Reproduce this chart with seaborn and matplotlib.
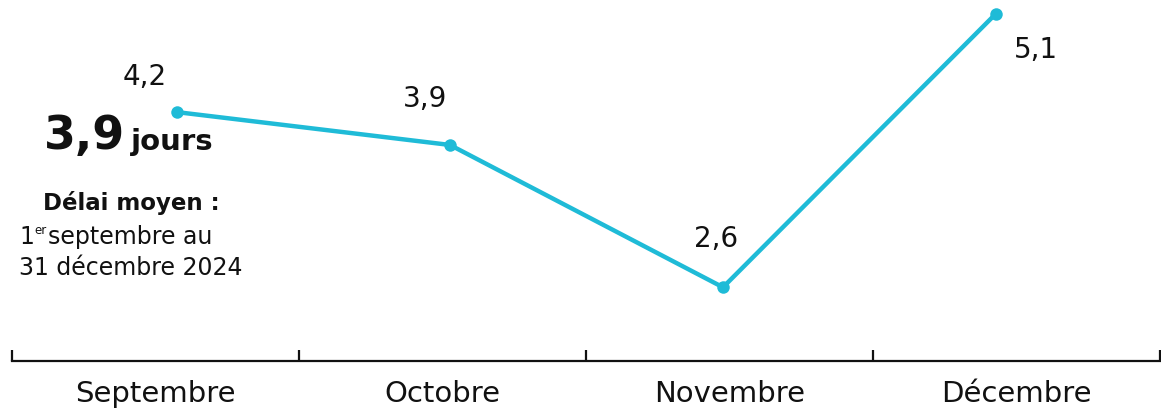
import matplotlib
matplotlib.use('Agg')
import matplotlib.pyplot as plt
import numpy as np
import pandas as pd
import seaborn as sns

# data
months = ['Septembre', 'Octobre', 'Novembre', 'Décembre']
delays = [4.2, 3.9, 2.6, 5.1]
value_labels = ['4,2', '3,9', '2,6', '5,1']
mean_delay = '3,9'

line_color = '#1fbbd7'
text_color = '#111111'

sns.set_theme(style='white')
plt.rcParams['font.family'] = ['DejaVu Sans']

W, H = 1161, 412
fig = plt.figure(figsize=(W / 100, H / 100), dpi=100)

# bottom category axis (ticks at month boundaries)
ax_b = fig.add_axes([12 / W, 51 / H, 1148 / W, 11 / H])
ax_b.set_xlim(-0.5, len(months) - 0.5)
ax_b.set_ylim(0, 1)
for s in ['top', 'left', 'right']:
    ax_b.spines[s].set_visible(False)
ax_b.spines['bottom'].set_color(text_color)
ax_b.spines['bottom'].set_linewidth(1.6)
ax_b.set_yticks([])
ax_b.set_xticks(np.arange(len(months) + 1) - 0.5)
ax_b.set_xticklabels([])
ax_b.tick_params(axis='x', which='major', direction='in', length=8,
                 width=1.6, color=text_color, bottom=True)
ax_b.set_xticks(np.arange(len(months)), minor=True)
ax_b.set_xticklabels(months, minor=True, fontsize=21, color=text_color)
ax_b.tick_params(axis='x', which='minor', length=0, pad=14, bottom=True)
ax_b.patch.set_alpha(0)

# line axis
ax = fig.add_axes([40.5 / W, 0, 1092 / W, 1])
ax.patch.set_alpha(0)
df = pd.DataFrame({'x': np.arange(len(months)), 'delay': delays})
sns.lineplot(data=df, x='x', y='delay', ax=ax, color=line_color,
             linewidth=3.2, marker='o', markersize=9,
             markeredgewidth=0, markerfacecolor=line_color)
ax.set_xlim(-0.5, len(months) - 0.5)
ax.set_ylim(1.461, 5.224)
ax.axis('off')

offsets = [(-32, 35), (-25, 46), (-7, 48), (40, -36)]
for i, (v, lab) in enumerate(zip(delays, value_labels)):
    ax.annotate(lab, (i, v), xytext=offsets[i], textcoords='offset pixels',
                ha='center', va='center', fontsize=20, color=text_color)

# left summary text
fig.text(125 / W, 1 - 136 / H, mean_delay, ha='right', va='center',
         fontsize=33, fontweight='bold', color=text_color)
fig.text(131 / W, 1 - 142 / H, 'jours', ha='left', va='center',
         fontsize=21, fontweight='bold', color=text_color)
fig.text(131 / W, 1 - 203 / H, 'Délai moyen :', ha='center', va='center',
         fontsize=16.5, fontweight='bold', color=text_color)
fig.text(19 / W, 1 - 237 / H, '1', ha='left', va='center',
         fontsize=17, color=text_color)
fig.text(34 / W, 1 - 230 / H, 'er', ha='left', va='center',
         fontsize=8.5, color=text_color)
fig.text(48 / W, 1 - 237 / H, 'septembre au', ha='left', va='center',
         fontsize=17, color=text_color)
fig.text(131 / W, 1 - 268 / H, '31 décembre 2024', ha='center', va='center',
         fontsize=17, color=text_color)

plt.savefig('out.png', dpi=100)
